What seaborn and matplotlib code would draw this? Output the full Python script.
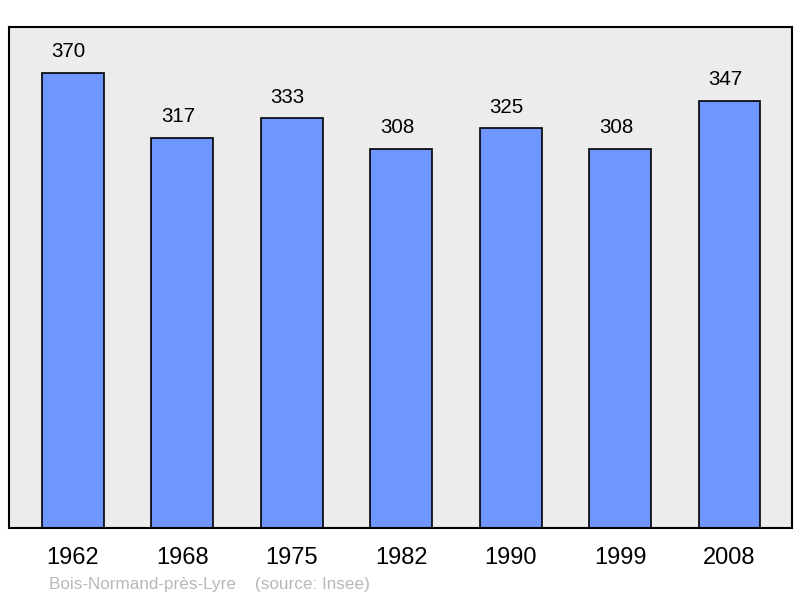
import matplotlib
matplotlib.use("Agg")
import matplotlib.pyplot as plt
import seaborn as sns
import pandas as pd

years = ["1962", "1968", "1975", "1982", "1990", "1999", "2008"]
population = [370, 317, 333, 308, 325, 308, 347]
source_text = "Bois-Normand-près-Lyre    (source: Insee)"

sns.set_theme(style="white")
plt.rcParams['font.family'] = ['Liberation Sans', 'DejaVu Sans']

df = pd.DataFrame({"year": years, "pop": population})

fig = plt.figure(figsize=(8, 5.98), dpi=100)
W, H = 800, 598
ax = fig.add_axes([9 / W, 1 - 528 / H, (792 - 9) / W, (528 - 27) / H])
ax.set_facecolor("#ececec")

sns.barplot(data=df, x="year", y="pop", color="#6f95ff", saturation=1,
            width=0.566, edgecolor="black", linewidth=1.2, ax=ax)

ax.set_xlim(-0.584, 6.571)
ax.set_ylim(0, 407.4)

for i, v in enumerate(population):
    ax.annotate(str(v), (i, v), xytext=(-3, 8.5), textcoords="offset points",
                ha="center", va="bottom", fontsize=14.8, color="black")

ax.set_yticks([])
ax.set_xlabel("")
ax.set_ylabel("")
ax.tick_params(axis="x", length=0, labelsize=17, pad=14, colors="black")
for s in ax.spines.values():
    s.set_visible(True)
    s.set_color("black")
    s.set_linewidth(1.5)

fig.text(49 / W, 1 - 585 / H, source_text, ha="left", va="center",
         fontsize=12.3, color="#b8b8b8")

fig.savefig("out.png", dpi=100)
